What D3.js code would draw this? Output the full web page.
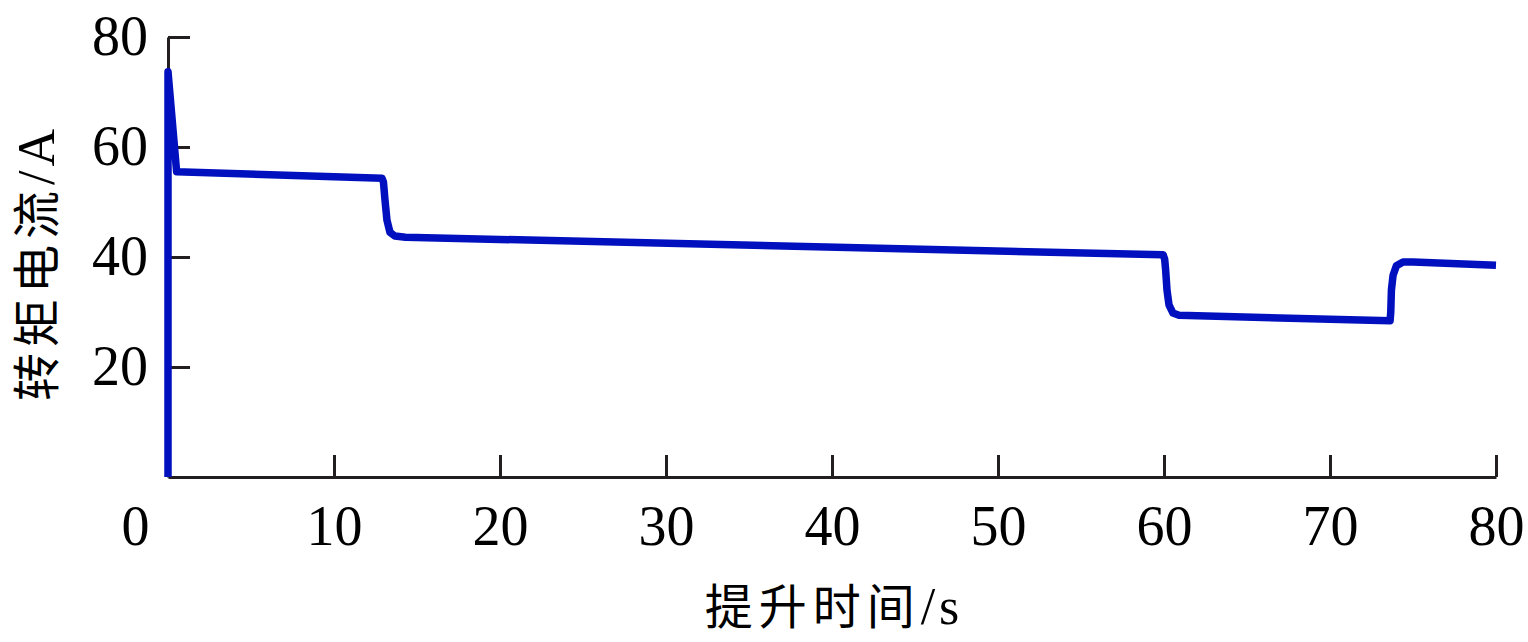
<!DOCTYPE html>
<html>
<head>
<meta charset="utf-8">
<script src="https://cdn.jsdelivr.net/npm/d3@7"></script>
<style>
  body { margin: 0; background: #fff; }
  svg text { fill: #000; }
</style>
</head>
<body>
<div id="plot"></div>
<script>
// Lifting time (s) and torque current (A)
const timeS = [0, 0, 0.52, 12.9, 12.98, 13.07, 13.19, 13.37, 13.67, 14.3,
               59.95, 60.04, 60.1, 60.18, 60.3, 60.54, 60.9,
               73.62, 73.66, 73.7, 73.8, 74.0, 74.4, 75.0, 80];
const currentA = [0, 73.7, 55.5, 54.3, 53.6, 50.4, 46.7, 44.5, 43.8, 43.6,
                  40.4, 39.6, 37.6, 34.0, 31.3, 29.8, 29.4,
                  28.4, 30.0, 34.0, 36.7, 38.4, 39.1, 39.1, 38.5];

const xTicks = [0, 10, 20, 30, 40, 50, 60, 70, 80];
const yTicks = [20, 40, 60, 80];

const W = 1528, H = 642;
const x0 = 168, x1 = 1496, y0 = 477, y1 = 37;

const svg = d3.select("#plot")
    .append("svg")
    .attr("width", W)
    .attr("height", H);

const x = d3.scaleLinear().domain([0, 80]).range([x0, x1]);
const y = d3.scaleLinear().domain([0, 80]).range([y0, y1]);

const numFont = "'Liberation Serif', 'Times New Roman', serif";
const cjkFont = "'Noto Sans CJK SC', serif";

// x axis, ticks pointing inward
const xAxis = svg.append("g")
    .attr("transform", `translate(0,${y0})`)
    .call(d3.axisBottom(x).tickValues(xTicks).tickSize(-22).tickSizeOuter(0).tickPadding(28));

// y axis
const yAxis = svg.append("g")
    .attr("transform", `translate(${x0},0)`)
    .call(d3.axisLeft(y).tickValues(yTicks).tickSize(-22).tickSizeOuter(0).tickPadding(20));

[xAxis, yAxis].forEach(g => {
    g.select(".domain").attr("stroke", "#231f20").attr("stroke-width", 3);
    g.selectAll(".tick line").attr("stroke", "#231f20").attr("stroke-width", 3);
    g.selectAll(".tick text")
        .attr("font-family", numFont)
        .attr("font-size", 56)
        .attr("fill", "#000");
});

// the origin label sits left of the corner, no tick mark there
xAxis.selectAll(".tick").filter(d => d === 0).select("line").remove();
xAxis.selectAll(".tick").filter(d => d === 0).select("text").attr("x", -33);

// current trace
const line = d3.line()
    .x((d, i) => x(timeS[i]))
    .y(d => y(d));

svg.append("path")
    .datum(currentA)
    .attr("d", line)
    .attr("fill", "none")
    .attr("stroke", "#0010be")
    .attr("stroke-width", 7.5)
    .attr("stroke-linejoin", "round");

// axis titles: CJK part plus a larger serif "/unit"
function axisTitle(sel, cjk, unit) {
    sel.attr("text-anchor", "middle")
        .attr("font-family", cjkFont)
        .attr("font-size", 48)
        .attr("letter-spacing", 6);
    sel.append("tspan").text(cjk);
    sel.append("tspan")
        .attr("font-family", numFont)
        .attr("font-size", 52)
        .attr("letter-spacing", 4)
        .text(unit);
}

svg.append("text")
    .attr("x", (x0 + x1) / 2 + 2)
    .attr("y", 624)
    .call(axisTitle, "提升时间", "/s");

svg.append("text")
    .attr("transform", `translate(54,${(y0 + y1) / 2 + 6}) rotate(-90)`)
    .call(axisTitle, "转矩电流", "/A");
</script>
</body>
</html>
